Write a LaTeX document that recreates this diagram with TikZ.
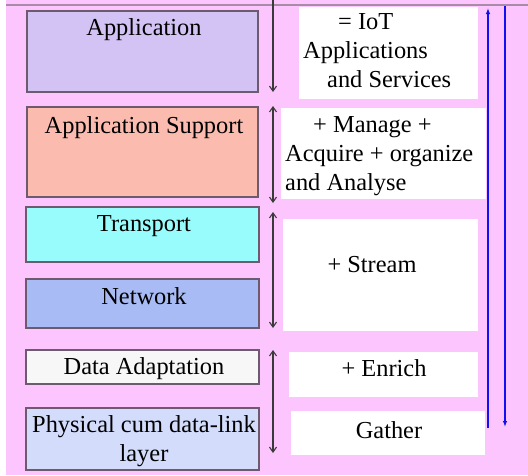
\documentclass[tikz,border=0pt]{standalone}
\usepackage{fontspec}
\setmainfont{Liberation Serif}
\usetikzlibrary{arrows.meta}
\definecolor{bgpink}{HTML}{FDC5FD}
\definecolor{rimline}{HTML}{A98AA9}
\definecolor{boxrim}{HTML}{6E5A6E}
\definecolor{fillapp}{HTML}{D3C3F5}
\definecolor{fillsup}{HTML}{FBBCAF}
\definecolor{filltrn}{HTML}{99FCFC}
\definecolor{fillnet}{HTML}{A9BBF4}
\definecolor{fillada}{HTML}{F7F7F7}
\definecolor{fillphy}{HTML}{D3DDFB}
\definecolor{arrgray}{HTML}{3A3A3A}
\definecolor{flowblue}{HTML}{1010F0}
\tikzset{
  layerbox/.style={draw=boxrim, line width=1.1pt, rectangle, inner sep=0pt},
  notebox/.style={fill=white, draw=none, rectangle, inner sep=0pt},
  txt/.style={inner sep=0pt, font=\fontsize{24.4}{29}\selectfont},
  span/.style={draw=arrgray, line width=1.1pt},
  flow/.style={draw=flowblue, line width=1.2pt, -{Latex[length=6pt,width=4.5pt]}}
}
\begin{document}
\begin{tikzpicture}[x=1pt,y=-1pt]
  \useasboundingbox (0,0) rectangle (528,475);
  % backdrop
  \fill[white] (0,0) rectangle (528,475);
  \fill[bgpink] (6,0) rectangle (528,475);
  \draw[rimline, line width=1.6pt] (6,5) -- (528,5);

  % protocol layers on the left
  \node[layerbox, fill=fillapp, minimum width=231pt, minimum height=81pt] (app) at (142.5,51.5) {};
  \node[layerbox, fill=fillsup, minimum width=231pt, minimum height=90pt] (sup) at (142.5,152) {};
  \node[layerbox, fill=filltrn, minimum width=233pt, minimum height=55pt] (trn) at (142.5,234.5) {};
  \node[layerbox, fill=fillnet, minimum width=233pt, minimum height=49pt] (net) at (142.5,303.5) {};
  \node[layerbox, fill=fillada, minimum width=233pt, minimum height=34pt] (ada) at (142.5,367) {};
  \node[layerbox, fill=fillphy, minimum width=233pt, minimum height=62pt] (phy) at (142.5,439) {};

  \node[txt] (tapp) at (144,30) {Application};
  \node[txt] (tsup) at (144,128) {Application Support};
  \node[txt] (ttrn) at (144,226) {Transport};
  \node[txt] (tnet) at (144,296) {Network};
  \node[txt] (tada) at (144,369) {Data Adaptation};
  \node[txt, align=center] (tphy) at (144,441.5) {Physical cum data-link\\layer};

  % description panels on the right
  \node[notebox, minimum width=179pt, minimum height=92pt] (napp) at (388.5,53) {};
  \node[notebox, minimum width=205pt, minimum height=91pt] (nsup) at (383.5,153.5) {};
  \node[notebox, minimum width=195pt, minimum height=112pt] (ntrn) at (380.5,275) {};
  \node[notebox, minimum width=189pt, minimum height=45pt] (nada) at (383.5,374.5) {};
  \node[notebox, minimum width=194pt, minimum height=44pt] (nphy) at (388,433) {};

  \node[txt, align=left, anchor=west] (dapp) at (303,51) {\hspace*{35pt}= IoT\\Applications\\\hspace*{24pt}and Services};
  \node[txt, align=left, anchor=west] (dsup) at (285,156) {\hspace*{28pt}+ Manage +\\Acquire + organize\\and Analyse};
  \node[txt] (dtrn) at (372,265) {+ Stream};
  \node[txt] (dada) at (384,368) {+ Enrich};
  \node[txt] (dphy) at (389,430) {Gather};

  % span markers between the two columns
  \coordinate (s1a) at (273,0);   \coordinate (s1b) at (273,92);
  \coordinate (s2a) at (273,106); \coordinate (s2b) at (273,203);
  \coordinate (s3a) at (273,212); \coordinate (s3b) at (273,328);
  \coordinate (s4a) at (273,350); \coordinate (s4b) at (273,453);
  \draw[span, -{Straight Barb[length=5pt,width=7pt]}] (s1a) -- (s1b);
  \draw[span, {Straight Barb[length=5pt,width=7pt]}-{Straight Barb[length=5pt,width=7pt]}] (s2a) -- (s2b);
  \draw[span, {Straight Barb[length=5pt,width=7pt]}-{Straight Barb[length=5pt,width=7pt]}] (s3a) -- (s3b);
  \draw[span, {Straight Barb[length=5pt,width=7pt]}-{Straight Barb[length=5pt,width=7pt]}] (s4a) -- (s4b);

  % upward and downward data flow
  \coordinate (upb) at (488,428); \coordinate (upt) at (488,8);
  \coordinate (dnt) at (505,6);   \coordinate (dnb) at (505,427);
  \draw[flow] (upb) -- (upt);
  \draw[flow] (dnt) -- (dnb);
\end{tikzpicture}
\end{document}
